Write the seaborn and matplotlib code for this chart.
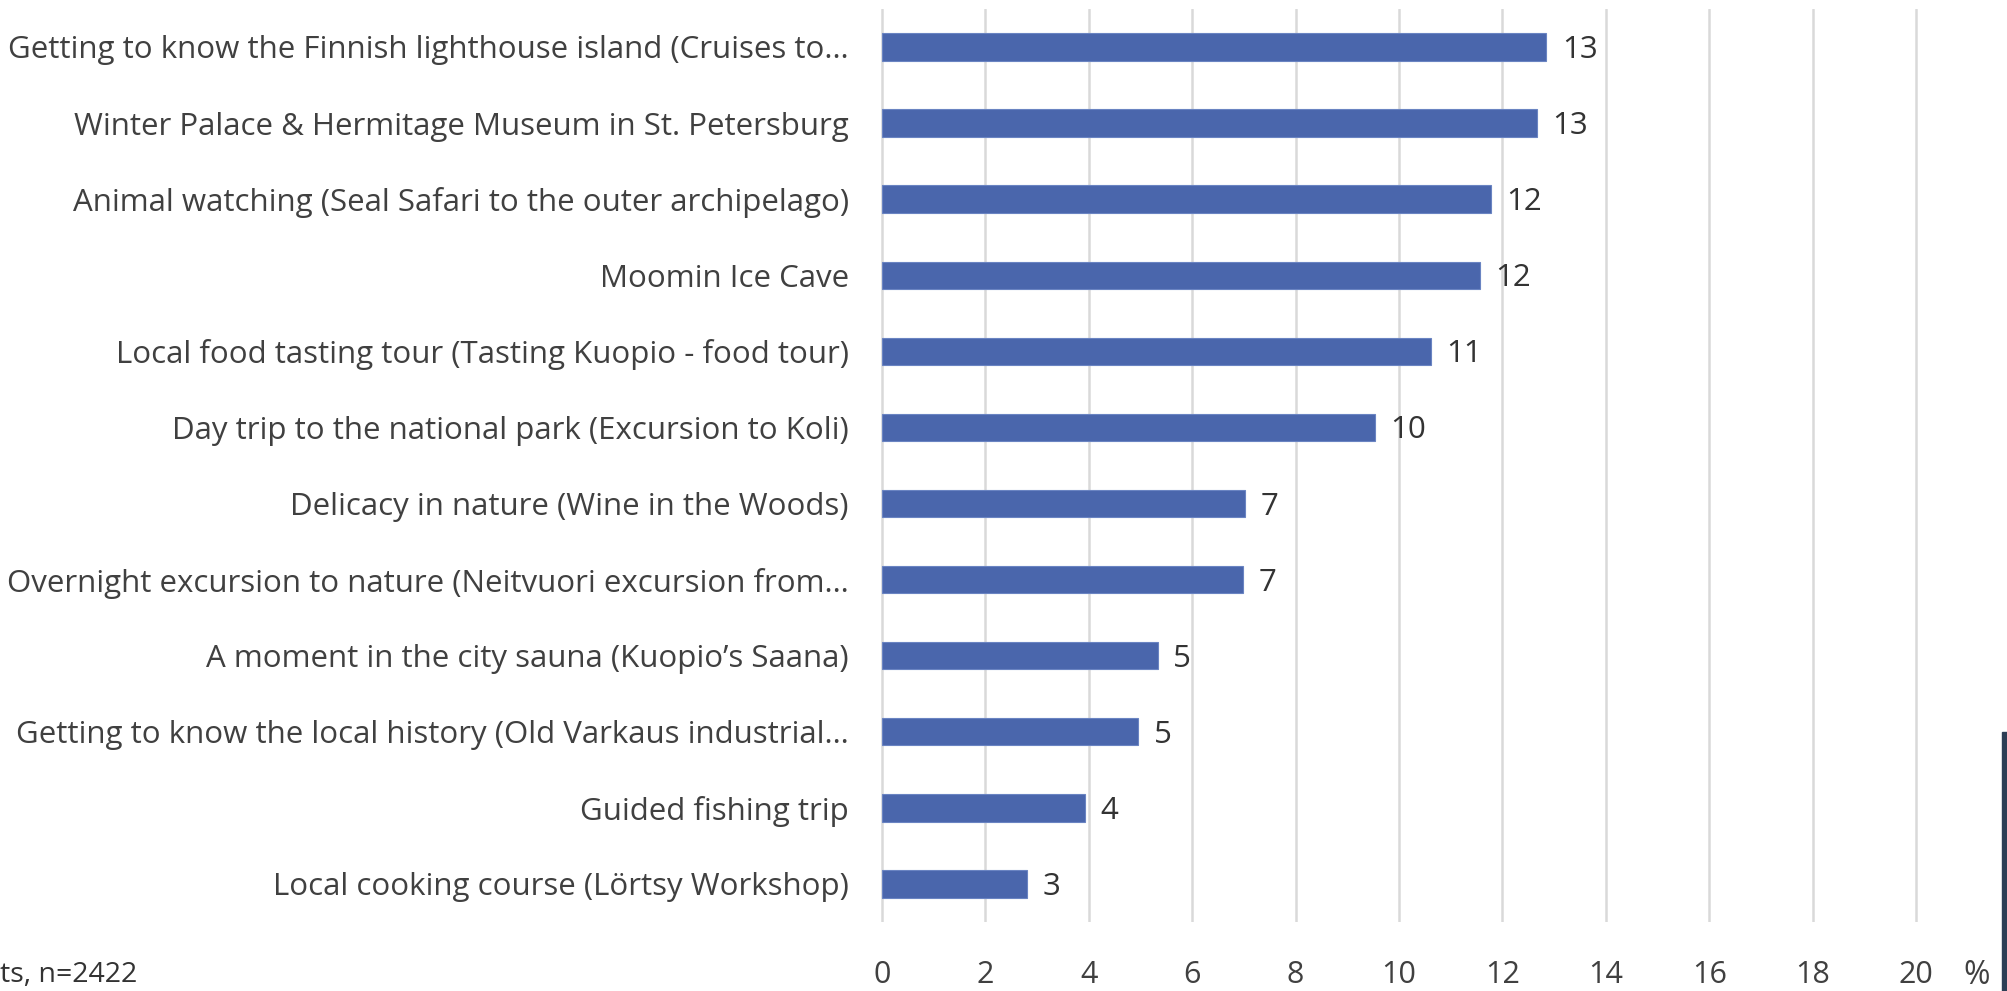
import matplotlib
matplotlib.use("Agg")
import matplotlib.pyplot as plt
import pandas as pd
import seaborn as sns

categories = [
    "Getting to know the Finnish lighthouse island (Cruises to…",
    "Winter Palace & Hermitage Museum in St. Petersburg",
    "Animal watching (Seal Safari to the outer archipelago)",
    "Moomin Ice Cave",
    "Local food tasting tour (Tasting Kuopio - food tour)",
    "Day trip to the national park (Excursion to Koli)",
    "Delicacy in nature (Wine in the Woods)",
    "Overnight excursion to nature (Neitvuori excursion from…",
    "A moment in the city sauna (Kuopio’s Saana)",
    "Getting to know the local history (Old Varkaus industrial…",
    "Guided fishing trip",
    "Local cooking course (Lörtsy Workshop)",
]
shares = [12.85, 12.67, 11.78, 11.56, 10.61, 9.54, 7.03, 6.98, 5.33, 4.96, 3.93, 2.81]
x_ticks = [0, 2, 4, 6, 8, 10, 12, 14, 16, 18, 20]

sns.set_theme(style="white")
plt.rcParams["font.family"] = ["Open Sans", "DejaVu Sans"]

df = pd.DataFrame({"activity": categories, "share": shares})

fig = plt.figure(figsize=(20.08, 9.91), dpi=100)
unit = (0.9542 - 0.4392) / 20
ax = fig.add_axes([0.4392 - 0.05 * unit, 0.0696, unit * 20.15, 0.9214])

sns.barplot(data=df, x="share", y="activity", orient="h", color="#4a66ac",
            saturation=1, width=0.36, edgecolor="#6a84c2", linewidth=0.8, ax=ax)

ax.set_xlim(-0.05, 20.1)
ax.set_ylim(len(categories) - 0.5, -0.5)
ax.set_xticks(x_ticks)
ax.set_xticklabels([str(t) for t in x_ticks])
ax.grid(axis="x", color="#d9d9d9", linewidth=1.8)
ax.grid(axis="y", visible=False)
ax.set_axisbelow(True)
for s in ax.spines.values():
    s.set_visible(False)
ax.set_xlabel("")
ax.set_ylabel("")
ax.tick_params(axis="y", length=0, pad=22, labelsize=22.5, labelcolor="#404040")
ax.tick_params(axis="x", length=0, pad=27, labelsize=22, labelcolor="#404040")

for i, v in enumerate(shares):
    ax.text(v + 0.3, i + 0.04, f"{round(v):d}", va="center", ha="left",
            fontsize=22.5, color="#333333")

fig.text(1977 / 2008, 1 - 975 / 991, "%", ha="center", va="center",
         fontsize=23, color="#404040")
fig.text(0.0, 1 - 975 / 991, "ts, n=2422", ha="left", va="center",
         fontsize=20.5, color="#333333")

# dark strip cut into the right edge of the screenshot
fig.patches.append(plt.Rectangle((2002 / 2008, 0), 6 / 2008, 1 - 732 / 991,
                                 transform=fig.transFigure, color="#2c3e55"))

fig.savefig("out.png", dpi=100)
